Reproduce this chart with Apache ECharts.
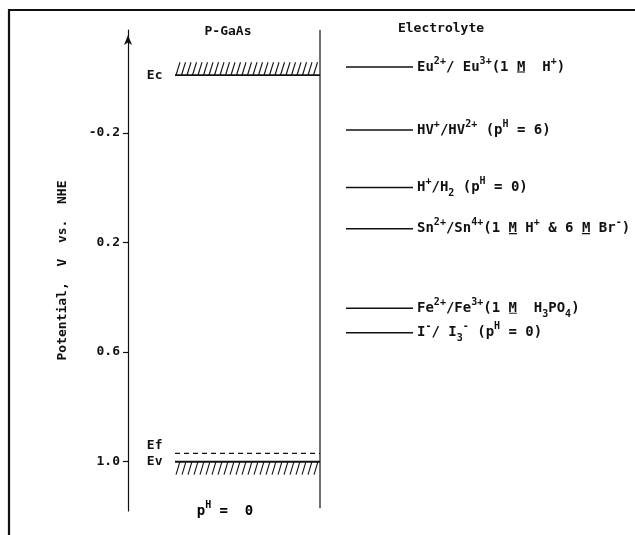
<!DOCTYPE html>
<html><head><meta charset="utf-8">
<script src="https://cdn.jsdelivr.net/npm/echarts@6/dist/echarts.min.js"></script>
<style>html,body{margin:0;padding:0;background:#fff}#c{width:635px;height:535px}</style>
</head><body><div id="c"></div>
<script>
// ---------------- data ----------------
const yTicks = [-0.2, 0.2, 0.6, 1.0];
const bandNames = ['Ec', 'Ef', 'Ev'];
const bandValues = [-0.41, 0.97, 1.00];
const redoxValues = [-0.44, -0.21, 0.00, 0.15, 0.44, 0.53];
const redoxLabels = [
  '{b|Eu}{sp|2+}{b|/ Eu}{sp|3+}{b|(1 }{u|M}{b|  H}{sp|+}{b|)}',
  '{b|HV}{sp|+}{b|/HV}{sp|2+}{b| (p}{sp|H}{b| = 6)}',
  '{b|H}{sp|+}{b|/H}{sb|2}{b| (p}{sp|H}{b| = 0)}',
  '{b|Sn}{sp|2+}{b|/Sn}{sp|4+}{b|(1 }{u|M}{b| H}{sp|+}{b| & 6 }{u|M}{b| Br}{sp|-}{b|)}',
  '{b|Fe}{sp|2+}{b|/Fe}{sp|3+}{b|(1 }{u|M}{b|  H}{sb|3}{b|PO}{sb|4}{b|)}',
  '{b|I}{sp|-}{b|/ I}{sb|3}{sp|-}{b| (p}{sp|H}{b| = 0)}'
];
const axisTitle = 'Potential,  V  vs.  NHE';
const leftTitle = 'P-GaAs';
const rightTitle = 'Electrolyte';
const bottomNote = '{b|p}{sp|H}{b| =  0}';

// ---------------- layout ----------------
const F = '"DejaVu Sans Mono", monospace';
const INK = '#111';
const Y_MIN = -0.575, Y_MAX = 1.18;
const BAND_X0 = 47, BAND_X1 = 192;      // semiconductor band extent (x units)
const EL_X0 = 218, EL_X1 = 285;         // electrolyte level segment extent
const IFACE = [-0.575, 1.17];
const bandLabelOffsets = [[0, 0], [0, -8], [0, 0]];
const bandWidths = [1.8, 1.2, 2];

// underline image for molar "M"
const ul = document.createElement('canvas');
ul.width = 9; ul.height = 22;
const g = ul.getContext('2d');
g.fillStyle = INK; g.fillRect(0, 18, 9, 1.6);

const rich = {
  b: {fontFamily: F, fontWeight: 'bold', fontSize: 14, lineHeight: 22, color: INK},
  u: {fontFamily: F, fontWeight: 'bold', fontSize: 14, lineHeight: 22, color: INK,
      backgroundColor: {image: ul}},
  sp: {fontFamily: F, fontWeight: 'bold', fontSize: 10, lineHeight: 10, verticalAlign: 'top', color: INK},
  sb: {fontFamily: F, fontWeight: 'bold', fontSize: 10, lineHeight: 10, verticalAlign: 'bottom', color: INK}
};

const chart = echarts.init(document.getElementById('c'), null, {renderer: 'canvas'});

const series = [];
// band edges
bandNames.forEach((n, i) => {
  series.push({
    type: 'line', silent: true, symbol: 'none', animation: false,
    data: [[BAND_X0, bandValues[i]], [BAND_X1, bandValues[i]]],
    lineStyle: {color: INK, width: bandWidths[i], type: n === 'Ef' ? [5, 4] : 'solid'}
  });
});
// band labels
series.push({
  type: 'scatter', silent: true, animation: false, symbolSize: 1,
  itemStyle: {color: 'rgba(0,0,0,0)', opacity: 1},
  data: bandNames.map((n, i) => ({
    name: n, value: [BAND_X0, bandValues[i]],
    label: {offset: bandLabelOffsets[i]}
  })),
  label: {show: true, position: 'left', distance: 12, formatter: p => p.name,
    fontFamily: F, fontWeight: 'bold', fontSize: 13, color: INK, opacity: 1}
});
// hatching
series.push({
  type: 'custom', silent: true, animation: false,
  data: [[bandValues[0], -1], [bandValues[2], 1]],
  renderItem(params, api) {
    const v = api.value(0), dir = api.value(1);
    const a = api.coord([BAND_X0, v]), b = api.coord([BAND_X1, v]);
    const H = 13, slant = 4, step = dir < 0 ? 5.5 : 6;
    const kids = [];
    const yBot = dir < 0 ? a[1] : a[1] + H;
    for (let x = a[0] + 1; x + slant <= b[0] + 0.5; x += step) {
      kids.push({type: 'line', shape: {x1: x, y1: yBot, x2: x + slant, y2: yBot - H},
        style: {stroke: INK, lineWidth: 1.1}});
    }
    return {type: 'group', children: kids};
  }
});
// interface line
series.push({
  type: 'line', silent: true, symbol: 'none', animation: false,
  data: [[BAND_X1, IFACE[0]], [BAND_X1, IFACE[1]]],
  lineStyle: {color: INK, width: 1.2}
});
// electrolyte redox levels
series.push({
  type: 'scatter', silent: true, animation: false,
  symbol: 'rect', symbolSize: [EL_X1 - EL_X0, 1.5],
  itemStyle: {color: INK, opacity: 1},
  data: redoxValues.map((v, i) => ({value: [(EL_X0 + EL_X1) / 2, v], name: redoxLabels[i]})),
  label: {show: true, position: 'right', distance: 4, formatter: p => p.name, rich: rich, opacity: 1}
});

chart.setOption({
  animation: false,
  backgroundColor: '#fff',
  grid: {left: 128, top: 30, width: 500, height: 481, containLabel: false},
  xAxis: {type: 'value', min: 0, max: 500, show: false},
  yAxis: {
    type: 'value', inverse: true, min: Y_MIN, max: Y_MAX,
    name: axisTitle, nameLocation: 'middle', nameGap: 59,
    nameTextStyle: {fontFamily: F, fontWeight: 'bold', fontSize: 13, color: INK},
    splitLine: {show: false},
    axisLine: {show: true, lineStyle: {color: INK, width: 1.2},
      symbol: ['none', 'arrow'], symbolSize: [6, 10], symbolOffset: [0, -5]},
    axisTick: {show: true, length: 5, customValues: yTicks, lineStyle: {color: INK, width: 1.2}},
    axisLabel: {show: true, margin: 8, customValues: yTicks,
      formatter: v => v.toFixed(1),
      fontFamily: F, fontWeight: 'bold', fontSize: 13, color: INK}
  },
  graphic: [
    {type: 'rect', silent: true, shape: {x: 9, y: 10, width: 640, height: 540},
      style: {fill: 'none', stroke: INK, lineWidth: 2.2}},
    {type: 'text', silent: true, x: 228, y: 32,
      style: {text: leftTitle, align: 'center', verticalAlign: 'middle',
        font: 'bold 13px ' + F, fill: INK}},
    {type: 'text', silent: true, x: 441, y: 29,
      style: {text: rightTitle, align: 'center', verticalAlign: 'middle',
        font: 'bold 13px ' + F, fill: INK}},
    {type: 'text', silent: true, x: 225, y: 511,
      style: {text: bottomNote, align: 'center', verticalAlign: 'middle', rich: rich}}
  ],
  series: series
});
</script></body></html>
